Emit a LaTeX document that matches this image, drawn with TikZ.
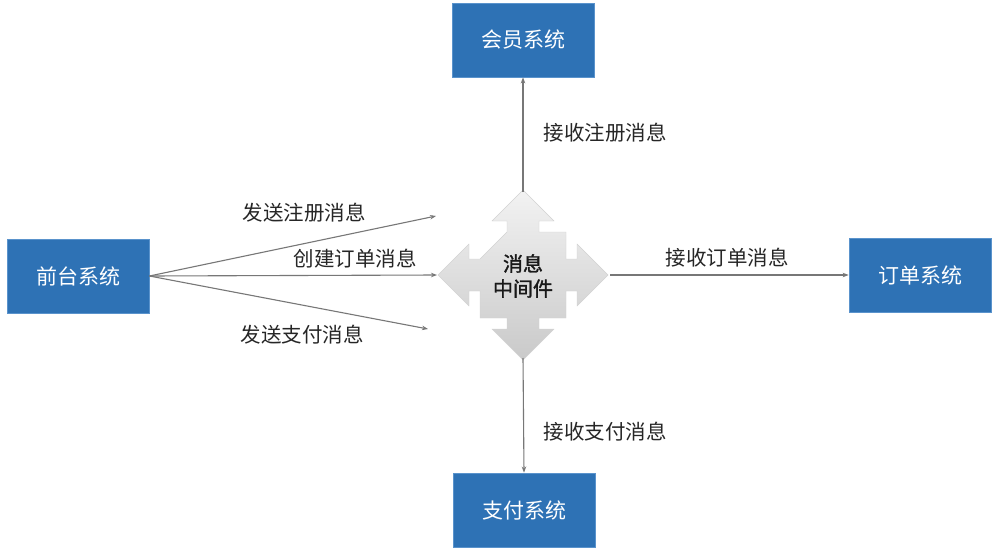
\documentclass[tikz,border=0pt]{standalone}
\usepackage{fontspec}
\setmainfont{Noto Sans CJK SC}
\newfontfamily\cjkbold[FakeBold=1.6]{Noto Sans CJK SC}
\usetikzlibrary{arrows.meta,shadings}
\definecolor{boxblue}{HTML}{2E72B5}
\definecolor{boxedge}{HTML}{5A93CC}
\definecolor{linegray}{HTML}{777777}
\definecolor{txt}{HTML}{262626}
\tikzset{
  sysbox/.style={rectangle, fill=boxblue, draw=boxedge, line width=0.8pt, minimum width=142pt, minimum height=74pt, inner sep=0pt, text=white, font=\fontsize{21}{24}\selectfont},
  lab/.style={text=txt, inner sep=0pt, font=\fontsize{20.5}{24}\selectfont},
  conn/.style={draw=linegray, line width=1.1pt, -{Stealth[length=6pt,width=4.5pt]}},
}
\begin{document}
\begin{tikzpicture}[x=1pt,y=-1pt]
\fill[white] (0,0) rectangle (998,551);
\useasboundingbox (0,0) rectangle (998,551);
% system boxes
\node[sysbox] (qt) at (78,276) {前台系统};
\node[sysbox] (hy) at (523,40) {会员系统};
\node[sysbox] (zf) at (524,510) {支付系统};
\node[sysbox] (dd) at (920,275) {订单系统};
% centre shape
\begin{scope}[shift={(523,275)}]
\def\s{16}\def\B{43}\def\d{54}\def\h{31}\def\t{85}
\shade[top color=gray!10, bottom color=gray!42, draw=gray!35, line width=0.4pt]
 (-\s,-\B) -- (-\s,-\d) -- (-\h,-\d) -- (0,-\t) -- (\h,-\d) -- (\s,-\d) -- (\s,-\B) -- (\B,-\B)
 -- (\B,-\s) -- (\d,-\s) -- (\d,-\h) -- (\t,0) -- (\d,\h) -- (\d,\s) -- (\B,\s) -- (\B,\B)
 -- (\s,\B) -- (\s,\d) -- (\h,\d) -- (0,\t) -- (-\h,\d) -- (-\s,\d) -- (-\s,\B) -- (-\B,\B)
 -- (-\B,\s) -- (-\d,\s) -- (-\d,\h) -- (-\t,0) -- (-\d,-\h) -- (-\d,-\s) -- (-\B,-\s) -- cycle;
\coordinate (mt) at (0,-83);
\coordinate (mb) at (0,83);
\coordinate (ml) at (-86,0);
\coordinate (mr) at (87,0);
\node[align=center, text=black!90, inner sep=0pt, font=\cjkbold\fontsize{20}{25}\selectfont] (mq) at (0,1) {消息\\中间件};
\end{scope}
% free ends
\coordinate (e1) at (436,216);
\coordinate (e3) at (428,329);
% connectors
\draw[conn] (qt.east) -- (e1);
\draw[conn] (qt.east) -- (ml);
\draw[conn] (qt.east) -- (e3);
\draw[conn] (mt) -- (hy.south);
\draw[conn] (mb) -- (zf.north);
\draw[conn] (mr) -- (dd.west);
% labels
\node[lab] (l1) at (304,213) {发送注册消息};
\node[lab] (l2) at (355,259) {创建订单消息};
\node[lab] (l3) at (302,335) {发送支付消息};
\node[lab] (l4) at (605,133) {接收注册消息};
\node[lab] (l5) at (727,258) {接收订单消息};
\node[lab] (l6) at (605,432) {接收支付消息};
\end{tikzpicture}
\end{document}
